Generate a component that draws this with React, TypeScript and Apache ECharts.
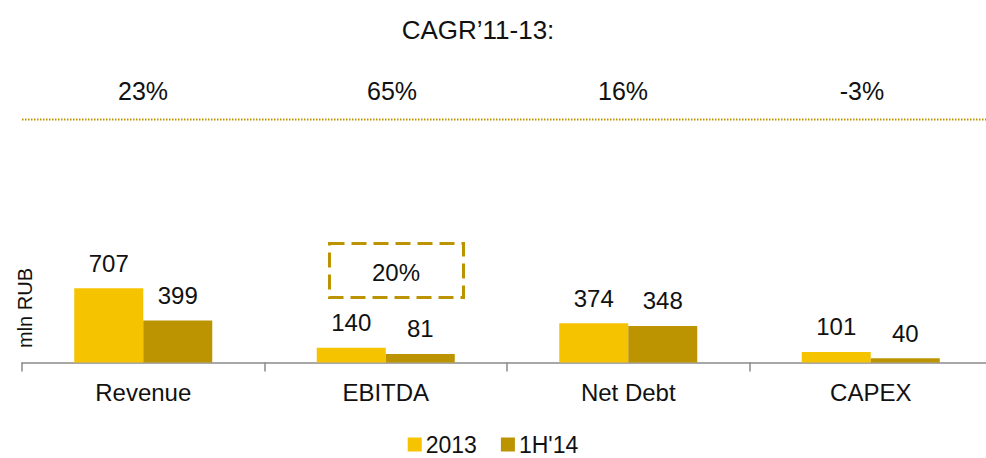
import React, { useEffect, useRef } from "react";
import * as echarts from "echarts";

const categories = ["Revenue", "EBITDA", "Net Debt", "CAPEX"];
const values2013 = [707, 140, 374, 101];
const values1H14 = [399, 81, 348, 40];
const cagrLabels = ["23%", "65%", "16%", "-3%"];
const seriesNames = ["2013", "1H'14"];
const ebitdaMarginLabel = "20%";

const FONT = "'Liberation Sans', Arial, Helvetica, sans-serif";
const C2013 = "#F6C300";
const C1H = "#BC9300";

export default function App() {
  const ref = useRef<HTMLDivElement>(null);
  useEffect(() => {
    document.body.style.margin = "0";
    if (!ref.current) return;
    const chart = echarts.init(ref.current, undefined, { renderer: "svg" });
    const cagrX = [143, 392, 623, 862];
    chart.setOption({
      animation: false,
      textStyle: { fontFamily: FONT },
      title: {
        text: "CAGR\u201911-13:",
        left: 473,
        top: 12,
        textAlign: "center",
        textStyle: { fontFamily: FONT, fontSize: 26, fontWeight: "normal", color: "#111" },
      },
      legend: {
        data: seriesNames,
        left: "center",
        top: 428,
        padding: [5, 5, 0, 5],
        icon: "rect",
        itemWidth: 14,
        itemHeight: 14,
        itemGap: 24,
        textStyle: { fontFamily: FONT, fontSize: 23, lineHeight: 22, color: "#111", padding: [0, 0, 0, -1] },
      },
      grid: {
        left: 22,
        width: 970,
        top: 152.5,
        bottom: 95.5,
        containLabel: false,
        outerBoundsMode: "none",
      },
      xAxis: {
        type: "category",
        data: categories,
        axisLine: { lineStyle: { color: "#8a8a8a", width: 1.5 } },
        axisTick: { show: true, length: 9, lineStyle: { color: "#8a8a8a", width: 1.5 } },
        axisLabel: { fontFamily: FONT, fontSize: 24, color: "#111", margin: 18 },
      },
      yAxis: {
        type: "value",
        min: 0,
        max: 2000,
        show: false,
      },
      series: [
        {
          name: seriesNames[0],
          type: "bar",
          data: values2013,
          barWidth: 69,
          barGap: "0%",
          itemStyle: { color: C2013 },
          label: { show: true, position: "top", distance: 13, fontFamily: FONT, fontSize: 24, color: "#111" },
        },
        {
          name: seriesNames[1],
          type: "bar",
          data: values1H14,
          barWidth: 69,
          barGap: "0%",
          itemStyle: { color: C1H },
          label: { show: true, position: "top", distance: 13, fontFamily: FONT, fontSize: 24, color: "#111" },
        },
      ],
      graphic: [
        {
          type: "line",
          shape: { x1: 22, y1: 119.5, x2: 986, y2: 119.5 },
          style: { stroke: C1H, lineWidth: 2, lineDash: [1.5, 1.5] },
        },
        ...cagrLabels.map((t, i) => ({
          type: "text",
          x: cagrX[i],
          y: 91,
          style: {
            text: t,
            fontFamily: FONT,
            fontSize: 25,
            fill: "#111",
            align: "center",
            verticalAlign: "middle",
          },
        })),
        {
          type: "rect",
          shape: { x: 329.5, y: 243.5, width: 134, height: 54 },
          style: { fill: "none", stroke: C1H, lineWidth: 3, lineDash: [15, 7] },
        },
        {
          type: "text",
          x: 396,
          y: 272,
          style: {
            text: ebitdaMarginLabel,
            fontFamily: FONT,
            fontSize: 24,
            fill: "#111",
            align: "center",
            verticalAlign: "middle",
          },
        },
        {
          type: "text",
          x: 25,
          y: 308,
          rotation: Math.PI / 2,
          style: {
            text: "mln RUB",
            fontFamily: FONT,
            fontSize: 20,
            fill: "#111",
            align: "center",
            verticalAlign: "middle",
          },
        },
      ],
    });
    return () => chart.dispose();
  }, []);
  return <div ref={ref} style={{ width: 986, height: 458 }} />;
}
